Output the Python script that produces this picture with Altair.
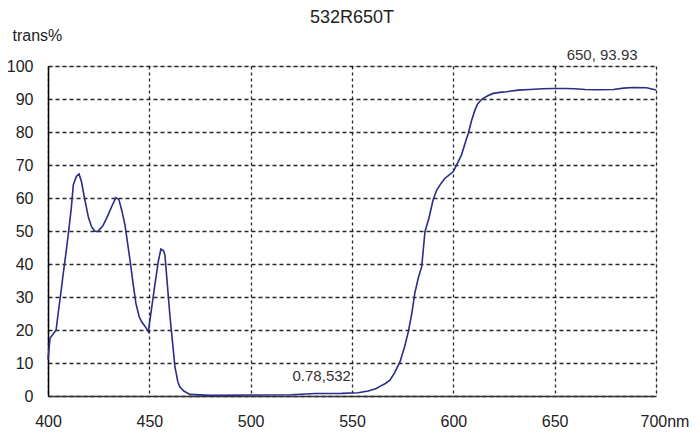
import altair as alt
import pandas as pd

wavelength = [400, 401, 404, 405, 406.5, 407.5, 409, 410, 411.5, 412.5, 414, 415.3, 416.5, 418, 420,
              421.5, 423, 424.5, 427, 429, 431.5, 433.5, 435, 436.5, 438, 440.5, 442, 443.4, 445,
              446.2, 448, 449.5, 451, 452.8, 454.5, 455.7, 457, 457.7, 459, 460.2, 461.5, 462.6,
              464, 465, 467, 470, 480, 500, 520, 532, 545, 553, 558, 562, 564, 566.5, 568.7, 571,
              573.7, 576, 577.8, 579.5, 581, 582.8, 584.4, 586, 588, 590, 591.8, 594, 595.9, 598,
              600, 602, 604, 606, 607.4, 609, 610.7, 612, 614, 617, 619.7, 623, 626.3, 632, 637.8,
              644, 649.3, 655, 660, 665, 670.7, 679, 684, 688.8, 695.4, 700]
transmission = [11, 17.5, 20, 25, 32, 37, 44, 49, 57, 64, 66.5, 67.3, 65, 60, 54,
                51.3, 50, 49.8, 51.5, 54, 57.5, 60.1, 59.5, 56, 51.8, 41, 34, 28, 24,
                22.5, 21, 19.5, 26, 34, 41, 44.5, 44, 42.7, 33, 24, 16, 9,
                4.5, 2.8, 1.5, 0.5, 0.2, 0.3, 0.4, 0.78, 0.8, 1, 1.5, 2.3, 3, 3.8, 4.8, 7,
                10.4, 15, 19.5, 25, 31.2, 36, 39.2, 49.8, 54, 59.4, 62.4, 64.5, 66, 67,
                68, 70.5, 73, 77, 79.6, 83.5, 86.7, 88.5, 89.9, 91, 91.7, 92, 92.2, 92.7, 92.9,
                93.1, 93.2, 93.2, 93.1, 92.9, 92.8, 92.9, 93.3, 93.5, 93.4, 92.7]

x_ticks = [400, 450, 500, 550, 600, 650, 700]
y_ticks = [0, 10, 20, 30, 40, 50, 60, 70, 80, 90, 100]

peak_x = [650]
peak_y = [93.93]
peak_text = ["650, 93.93"]
low_x = [532]
low_y = [0.78]
low_text = ["0.78,532"]

FONT = "Liberation Sans Narrow, Liberation Sans, Arial, sans-serif"

df = pd.DataFrame({"nm": wavelength, "t": transmission})
ann_peak = pd.DataFrame({"nm": peak_x, "t": peak_y, "label": peak_text})
ann_low = pd.DataFrame({"nm": low_x, "t": low_y, "label": low_text})

x_scale = alt.Scale(domain=[400, 700], nice=False, zero=False)
y_scale = alt.Scale(domain=[0, 100], nice=False)

x_axis = alt.Axis(
    values=x_ticks,
    labelExpr="datum.value == 700 ? '700nm' : datum.label",
    labelAlign={"condition": {"test": "datum.value == 700", "value": "left"}, "value": "center"},
    labelOffset={"condition": {"test": "datum.value == 700", "value": -16}, "value": 0},
    labelFont=FONT, labelFontSize=16, labelColor="#222", labelPadding=17,
    labelBaseline="top", ticks=False, domainColor="#333", domainWidth=1.5,
    grid=True, gridColor="#111", gridDash=[3, 3], gridWidth=1.3, gridOpacity=0.9,
    title=None, labelFlush=False, labelOverlap=False,
)
y_axis = alt.Axis(
    values=y_ticks, tickCount=11,
    labelFont=FONT, labelFontSize=16, labelColor="#222", labelPadding=15,
    ticks=False, domainColor="#000", domainWidth=1.5, labelOverlap=False,
    grid=True, gridColor="#111", gridDash=[4, 3], gridWidth=1.3, gridOpacity=0.9,
    title="trans%", titleAngle=0, titleAlign="left", titleBaseline="alphabetic",
    titleX=-36, titleY=-26, titleFont=FONT, titleFontSize=16, titleFontWeight="normal",
    titleColor="#222",
)

X = alt.X("nm:Q", scale=x_scale, axis=x_axis)
Y = alt.Y("t:Q", scale=y_scale, axis=y_axis)

line = alt.Chart(df).mark_line(color="#2b2d86", strokeWidth=1.6).encode(x=X, y=Y)

peak_label = alt.Chart(ann_peak).mark_text(
    font=FONT, fontSize=15, color="#333", align="left", baseline="middle", dx=12, dy=-31,
).encode(x=X, y=Y, text="label:N")

low_label = alt.Chart(ann_low).mark_text(
    font=FONT, fontSize=15, color="#333", align="left", baseline="middle", dx=-23, dy=-17,
).encode(x=X, y=Y, text="label:N")

chart = alt.layer(line, peak_label, low_label).properties(
    width=608, height=330,
    title=alt.TitleParams("532R650T", font=FONT, fontSize=18, fontWeight="normal",
                          color="#222", anchor="middle", offset=0),
    autosize=alt.AutoSizeParams(type="none"),
    padding={"left": 40, "top": 58, "right": 36, "bottom": 34},
).configure_view(stroke="#888", strokeWidth=1.2).configure(background="white")

chart.save("out.html", embed_options={"renderer": "svg", "actions": False})
